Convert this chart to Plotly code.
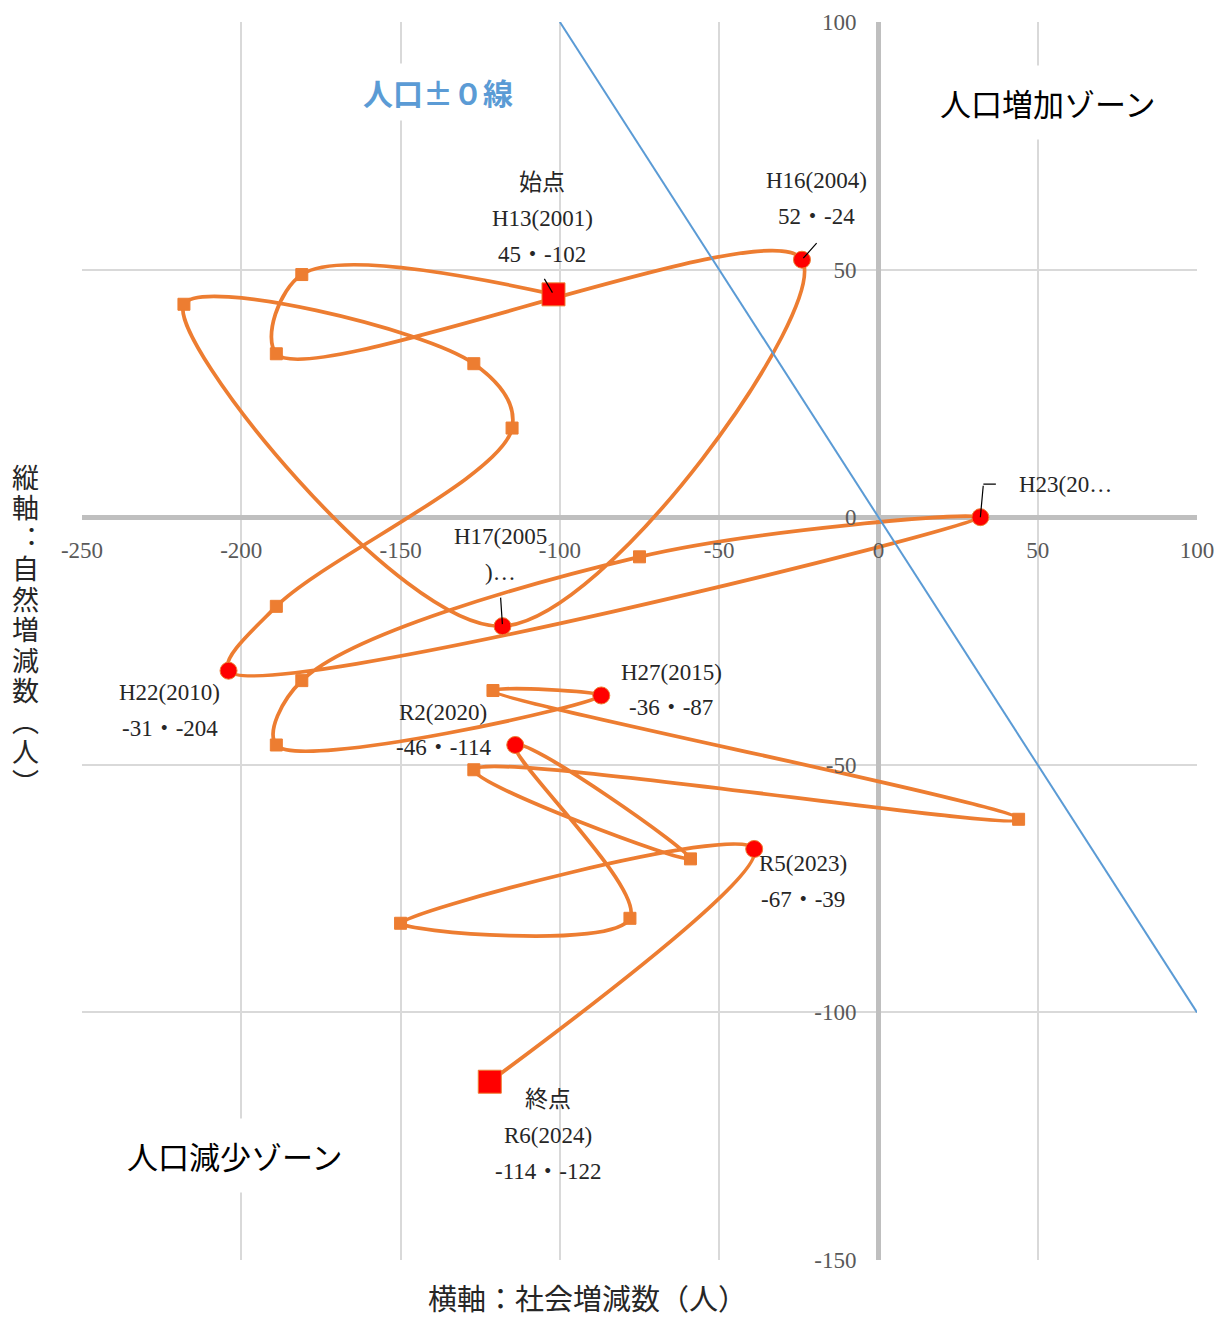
import plotly.graph_objects as go

# ---------------- data ----------------
years = ['H13(2001)', 'H14(2002)', 'H15(2003)', 'H16(2004)', 'H17(2005)', 'H18(2006)',
         'H19(2007)', 'H20(2008)', 'H21(2009)', 'H22(2010)', 'H23(2011)', 'H24(2012)',
         'H25(2013)', 'H26(2014)', 'H27(2015)', 'H28(2016)', 'H29(2017)', 'H30(2018)',
         'R1(2019)', 'R2(2020)', 'R3(2021)', 'R4(2022)', 'R5(2023)', 'R6(2024)']
social = [-102, -181, -189, -24, -118, -218, -127, -115, -189, -204, 32, -75,
          -181, -189, -87, -121, 44, -127, -59, -114, -78, -150, -39, -122]
natural = [45, 49, 33, 52, -22, 43, 31, 18, -18, -31, 0, -8,
           -33, -46, -36, -35, -61, -51, -69, -46, -81, -82, -67, -114]

zero_line_x = [-100, 100]
zero_line_y = [100, -100]

x_ticks = [-250, -200, -150, -100, -50, 0, 50, 100]
y_ticks = [-150, -100, -50, 0, 50, 100]
x_range = [-250, 100]
y_range = [-150, 100]

x_title = '横軸：社会増減数（人）'
y_title_chars = ['縦', '軸', '\uFE13', '自', '然', '増', '減', '数', '\uFE35', '人', '\uFE36']
zero_line_label = '人口±０線'
zone_up = '人口増加ゾーン'
zone_down = '人口減少ゾーン'

# ---------------- styles ----------------
ORANGE = '#ED7D31'
RED = '#FF0000'
BLUE = '#5B9BD5'
GRID = '#D9D9D9'
ZERO = '#BFBFBF'
SERIF = 'Liberation Serif, Noto Sans CJK JP'
SANS_JP = 'Noto Sans CJK JP'

start_end = {0, len(social) - 1}
key_points = {3, 4, 9, 10, 14, 19, 22}

symbols, sizes, colors = [], [], []
for i in range(len(social)):
    if i in start_end:
        symbols.append('square'); sizes.append(23); colors.append(RED)
    elif i in key_points:
        symbols.append('circle'); sizes.append(17); colors.append(RED)
    else:
        symbols.append('square'); sizes.append(12); colors.append(ORANGE)

fig = go.Figure()

fig.add_trace(go.Scatter(
    x=social, y=natural, mode='lines+markers',
    line=dict(color=ORANGE, width=3.75, shape='spline', smoothing=1.0),
    marker=dict(symbol=symbols, size=sizes, color=colors, opacity=1,
                line=dict(color=ORANGE, width=1)),
    text=years, hoverinfo='text+x+y', showlegend=False, cliponaxis=False,
))

fig.add_trace(go.Scatter(
    x=zero_line_x, y=zero_line_y, mode='lines',
    line=dict(color=BLUE, width=2), showlegend=False, hoverinfo='skip',
))

# ---------------- data labels ----------------
def val(i):
    return f'{natural[i]}・{social[i]}'

# index: (lines, dx, [dy per line], leader (ax, ay) or None)  -- pixel offsets
labels = {
    0: (['始点', years[0], val(0)], -11, [-112, -76, -40], (-10, -17)),
    3: ([years[3], val(3)], 15, [-79, -43], (16, -18)),
    4: (['H17(2005', ')…'], -2, [-90, -54], (-2, -30)),
    9: ([years[9], val(9)], -59, [22, 58], None),
    10: (['H23(20…'], 85, [-33], 'elbow'),
    14: ([years[14], val(14)], 70, [-23, 12], None),
    19: ([years[19], val(19)], -72, [-32, 3], None),
    22: ([years[22], val(22)], 49, [15, 51], None),
    23: (['終点', years[23], val(23)], 58, [18, 54, 90], None),
}

annotations = []
for i, (lines, dx, dys, leader) in labels.items():
    for text, dy in zip(lines, dys):
        annotations.append(dict(
            x=social[i], y=natural[i], xref='x', yref='y', text=text,
            showarrow=False, xshift=dx, yshift=-dy,
            xanchor='center', yanchor='middle',
            font=dict(family=SERIF, size=23, color='#262626')))
    if leader == 'elbow':
        annotations.append(dict(x=social[i], y=natural[i], xref='x', yref='y', text='',
                                showarrow=True, arrowhead=0, arrowwidth=1.2, arrowcolor='black',
                                standoff=0, ax=3, ay=-33))
        annotations.append(dict(x=social[i], y=natural[i], xref='x', yref='y', text='',
                                showarrow=True, arrowhead=0, arrowwidth=1.2, arrowcolor='black',
                                standoff=0, xshift=3, yshift=33, ax=14, ay=0))
    elif leader is not None:
        annotations.append(dict(x=social[i], y=natural[i], xref='x', yref='y', text='',
                                showarrow=True, arrowhead=0, arrowwidth=1.2, arrowcolor='black',
                                standoff=2, ax=leader[0], ay=leader[1]))

# ---------------- text boxes ----------------
annotations.append(dict(x=0.319, y=0.9435, xref='paper', yref='paper',
                        text=f'<b>{zero_line_label}</b>',
                        showarrow=False, bgcolor='white', borderpad=6,
                        xanchor='center', yanchor='middle',
                        font=dict(family=SANS_JP, size=30, color=BLUE)))
annotations.append(dict(x=0.866, y=0.9346, xref='paper', yref='paper', text=zone_up,
                        showarrow=False, bgcolor='white', borderpad=14,
                        xanchor='center', yanchor='middle',
                        font=dict(family=SANS_JP, size=31, color='black')))
annotations.append(dict(x=0.137, y=0.0848, xref='paper', yref='paper', text=zone_down,
                        showarrow=False, bgcolor='white', borderpad=14,
                        xanchor='center', yanchor='middle',
                        font=dict(family=SANS_JP, size=31, color='black')))

# axis titles
annotations.append(dict(x=0.4538, y=1 - (1297 - 22) / 1238, xref='paper', yref='paper',
                        text=x_title, showarrow=False, xanchor='center', yanchor='middle',
                        font=dict(family=SANS_JP, size=29, color='#262626')))
for k, ch in enumerate(y_title_chars):
    ypx = 476 + 30.5 * k
    annotations.append(dict(x=-0.0511, y=1 - (ypx - 22) / 1238, xref='paper', yref='paper',
                            text=ch, showarrow=False, xanchor='center', yanchor='middle',
                            font=dict(family=SANS_JP, size=27, color='#262626')))

x_pos = (0 - y_range[0]) / (y_range[1] - y_range[0])
y_pos = (0 - x_range[0]) / (x_range[1] - x_range[0])

fig.update_layout(
    width=1218, height=1320,
    margin=dict(l=82, r=21, t=22, b=60, autoexpand=False),
    paper_bgcolor='white', plot_bgcolor='white',
    annotations=annotations,
    xaxis=dict(range=x_range, tickvals=x_ticks, ticktext=[str(v) for v in x_ticks],
               showgrid=True, gridcolor=GRID, gridwidth=1.5, automargin=False,
               zeroline=True, zerolinecolor=ZERO, zerolinewidth=4.5,
               anchor='free', position=x_pos, ticks='', ticklabelstandoff=17,
               tickfont=dict(family=SERIF, size=23, color='#595959'), showline=False),
    yaxis=dict(range=y_range, tickvals=y_ticks, ticktext=[str(v) for v in y_ticks],
               showgrid=True, gridcolor=GRID, gridwidth=1.5, automargin=False,
               zeroline=True, zerolinecolor=ZERO, zerolinewidth=4.5,
               anchor='free', position=y_pos, ticks='', ticklabelstandoff=22,
               tickfont=dict(family=SERIF, size=23, color='#595959'), showline=False),
)

fig.write_html('out.html', config={'displayModeBar': False},
               post_script="document.body.style.margin='0px';"
                           "document.documentElement.style.overflow='hidden';")
